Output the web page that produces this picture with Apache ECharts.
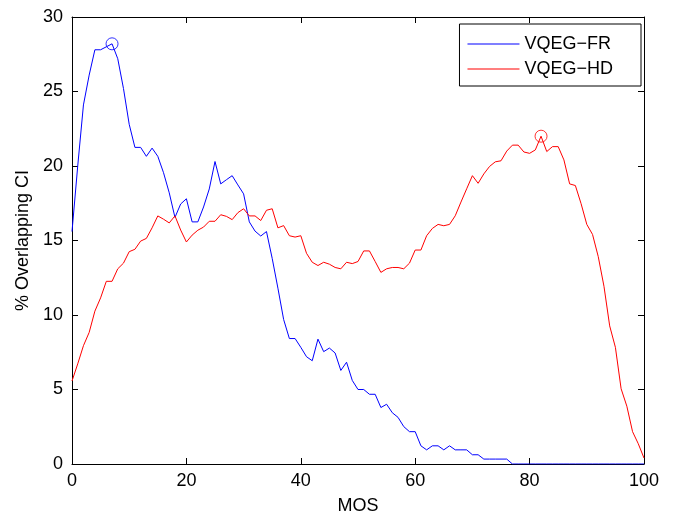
<!DOCTYPE html>
<html>
<head>
<meta charset="utf-8">
<script src="https://cdn.jsdelivr.net/npm/echarts@6/dist/echarts.min.js"></script>
<style>html,body{margin:0;padding:0;background:#fff;}#c{width:688px;height:520px;}</style>
</head>
<body>
<div id="c"></div>
<script>
var mos = [0,1,2,3,4,5,6,7,8,9,10,11,12,13,14,15,16,17,18,19,20,21,22,23,24,25,26,27,28,29,30,31,32,33,34,35,36,37,38,39,40,41,42,43,44,45,46,47,48,49,50,51,52,53,54,55,56,57,58,59,60,61,62,63,64,65,66,67,68,69,70,71,72,73,74,75,76,77,78,79,80,81,82,83,84,85,86,87,88,89,90,91,92,93,94,95,96,97,98,99,100];
var vqegFR = [15.6,20.0,24.1,26.1,27.8,27.8,28.0,28.2,27.2,25.2,22.8,21.25,21.25,20.65,21.2,20.65,19.55,18.2,16.55,17.45,17.8,16.25,16.25,17.25,18.46,20.3,18.8,19.08,19.35,18.73,18.13,16.25,15.63,15.3,15.6,13.8,11.8,9.7,8.42,8.42,7.83,7.2,6.93,8.38,7.54,7.78,7.45,6.28,6.83,5.61,5.0,5.0,4.68,4.68,3.79,4.01,3.44,3.13,2.51,2.17,2.17,1.22,0.95,1.22,1.22,0.95,1.22,0.95,0.95,0.95,0.62,0.62,0.33,0.33,0.33,0.33,0.33,0,0,0,0,0,0,0,0,0,0,0,0,0,0,0,0,0,0,0,0,0,0,0,0];
var vqegHD = [5.57,6.72,7.94,8.83,10.26,11.15,12.26,12.26,13.1,13.48,14.25,14.41,14.96,15.14,15.85,16.65,16.43,16.18,16.65,15.7,14.9,15.36,15.69,15.9,16.29,16.29,16.73,16.62,16.4,16.87,17.13,16.65,16.65,16.34,17.03,17.13,15.85,16.0,15.32,15.23,15.32,14.14,13.54,13.32,13.54,13.41,13.19,13.1,13.54,13.45,13.59,14.3,14.3,13.59,12.86,13.1,13.19,13.19,13.1,13.48,14.36,14.36,15.32,15.81,16.08,15.99,16.08,16.66,17.58,18.47,19.35,18.84,19.47,19.97,20.28,20.35,21.0,21.4,21.4,20.94,20.85,21.08,22.0,20.97,21.3,21.3,20.41,18.8,18.69,17.47,16.08,15.41,13.92,11.93,9.27,7.83,5.05,3.88,2.17,1.36,0.4];
var seriesNames = ['VQEG\u2212FR', 'VQEG\u2212HD'];
var seriesColors = ['#0000ff', '#ff0000'];
var peakFR = 7;
var peakHD = 82;
var xTicks = [0, 20, 40, 60, 80, 100];
var yTicks = [0, 5, 10, 15, 20, 25, 30];

function pairs(xs, ys) { return xs.map(function (x, i) { return [x, ys[i]]; }); }

var FONT = 'Liberation Sans, Arial, Helvetica, sans-serif';
var FS = 18;
var chart = echarts.init(document.getElementById('c'), null, {renderer: 'canvas'});
var axisLineStyle = {color: '#000', width: 1};
chart.setOption({
  animation: false,
  backgroundColor: '#fff',
  grid: {left: 72, right: 44, top: 17, bottom: 52, containLabel: false},
  legend: {
    right: 47, top: 24,
    orient: 'vertical',
    data: seriesNames.map(function (n, i) {
      return {name: n, itemStyle: {color: seriesColors[i]}};
    }),
    backgroundColor: '#fff',
    borderColor: '#000', borderWidth: 1,
    padding: [11, 28, 8, 8],
    itemGap: 7,
    itemWidth: 52, itemHeight: 14,
    icon: 'path://M0,7L52,7L52,8L0,8Z',
    textStyle: {fontFamily: FONT, fontSize: FS, color: '#000', padding: [0, 0, 0, 0]}
  },
  xAxis: [{
    type: 'value', min: 0, max: 100, interval: 20,
    name: 'MOS', nameLocation: 'middle', nameGap: 33,
    nameTextStyle: {fontFamily: FONT, fontSize: FS, color: '#000'},
    axisLine: {show: true, onZero: false, lineStyle: axisLineStyle},
    axisTick: {show: true, inside: true, length: 6, lineStyle: axisLineStyle},
    axisLabel: {fontFamily: FONT, fontSize: FS, color: '#000', margin: 8,
      formatter: function (v) { return xTicks.indexOf(v) >= 0 ? String(v) : ''; }},
    splitLine: {show: false}
  }, {
    type: 'value', min: 0, max: 100, interval: 20, position: 'top',
    axisLine: {show: true, onZero: false, lineStyle: axisLineStyle},
    axisTick: {show: true, inside: true, length: 6, lineStyle: axisLineStyle},
    axisLabel: {show: false}, splitLine: {show: false}
  }],
  yAxis: [{
    type: 'value', min: 0, max: 30, interval: 5,
    name: '% Overlapping CI', nameLocation: 'middle', nameGap: 40, nameRotate: 90,
    nameTextStyle: {fontFamily: FONT, fontSize: FS, color: '#000'},
    axisLine: {show: true, onZero: false, lineStyle: axisLineStyle},
    axisTick: {show: true, inside: true, length: 6, lineStyle: axisLineStyle},
    axisLabel: {fontFamily: FONT, fontSize: FS, color: '#000', margin: 9,
      formatter: function (v) { return yTicks.indexOf(v) >= 0 ? String(v) : ''; }},
    splitLine: {show: false}
  }, {
    type: 'value', min: 0, max: 30, interval: 5, position: 'right',
    axisLine: {show: true, onZero: false, lineStyle: axisLineStyle},
    axisTick: {show: true, inside: true, length: 6, lineStyle: axisLineStyle},
    axisLabel: {show: false}, splitLine: {show: false}
  }],
  series: [{
    name: seriesNames[0], type: 'line', data: pairs(mos, vqegFR),
    showSymbol: false, symbol: 'none', lineStyle: {color: seriesColors[0], width: 1}, itemStyle: {color: seriesColors[0]}
  }, {
    name: seriesNames[1], type: 'line', data: pairs(mos, vqegHD),
    showSymbol: false, symbol: 'none', lineStyle: {color: seriesColors[1], width: 1}, itemStyle: {color: seriesColors[1]}
  }, {
    type: 'scatter', data: [[mos[peakFR], vqegFR[peakFR]]],
    symbol: 'circle', symbolSize: 12,
    itemStyle: {color: 'transparent', borderColor: seriesColors[0], borderWidth: 1}, z: 5
  }, {
    type: 'scatter', data: [[mos[peakHD], vqegHD[peakHD]]],
    symbol: 'circle', symbolSize: 12,
    itemStyle: {color: 'transparent', borderColor: seriesColors[1], borderWidth: 1}, z: 5
  }]
});
</script>
</body>
</html>
